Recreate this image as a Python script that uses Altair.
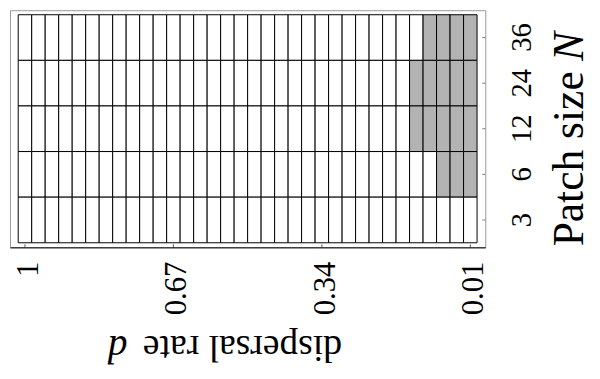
import altair as alt
import pandas as pd

# dispersal rates (columns, left to right) and patch sizes (rows, top to bottom)
d_values = ["1", "0.97", "0.94", "0.91", "0.88", "0.85", "0.82", "0.79", "0.76",
            "0.73", "0.7", "0.67", "0.64", "0.61", "0.58", "0.55", "0.52", "0.49",
            "0.46", "0.43", "0.4", "0.37", "0.34", "0.31", "0.28", "0.25", "0.22",
            "0.19", "0.16", "0.13", "0.1", "0.07", "0.04", "0.01"]
patch_sizes = ["36", "24", "12", "6", "3"]
# largest dispersal rate whose cell is shaded, per patch size (0 = none shaded)
shaded_up_to = [0.10, 0.13, 0.13, 0.07, 0.0]
x_tick_labels = ["1", "0.67", "0.34", "0.01"]

rows = []
for n, thr in zip(patch_sizes, shaded_up_to):
    for d in d_values:
        rows.append({"d": d, "N": n, "shaded": "yes" if float(d) <= thr + 1e-9 else "no"})
cells = pd.DataFrame(rows)

W, H = 481, 240
FONT = "Liberation Serif"

xscale = alt.Scale(domain=d_values, paddingInner=0, paddingOuter=0.61)
yscale = alt.Scale(domain=patch_sizes, paddingInner=0, paddingOuter=0.1)

xaxis = alt.Axis(values=x_tick_labels, labelAngle=270, labelAlign="right",
                 labelBaseline="middle", labelFont=FONT, labelFontSize=31,
                 labelColor="black", labelPadding=14, labelOffset=4,
                 ticks=False, tickSize=0, domain=True, domainColor="black",
                 domainWidth=1, title=None, labelOverlap=False, grid=False)
yaxis = alt.Axis(orient="right", labelAngle=270, labelAlign="center",
                 labelBaseline="alphabetic", labelFont=FONT, labelFontSize=29,
                 labelColor="black", labelPadding=46, ticks=False, tickSize=0,
                 domain=False, title=None, labelOverlap=False, grid=False)

heat = alt.Chart(cells).mark_rect(stroke="black", strokeWidth=1).encode(
    x=alt.X("d:O", scale=xscale, sort=None, axis=xaxis),
    y=alt.Y("N:O", scale=yscale, sort=None, axis=yaxis),
    fill=alt.Fill("shaded:N", scale=alt.Scale(domain=["no", "yes"],
                                              range=["white", "#b3b3b3"]), legend=None),
)

xt = alt.Chart(pd.DataFrame({"d": x_tick_labels})).mark_rule(color="#555", strokeWidth=1).encode(
    x=alt.X("d:O", scale=xscale, sort=None, axis=xaxis),
    y=alt.value(H), y2=alt.value(H - 3),
)
yt = alt.Chart(pd.DataFrame({"N": patch_sizes})).mark_rule(color="#777", strokeWidth=1).encode(
    y=alt.Y("N:O", scale=yscale, sort=None, axis=yaxis),
    x=alt.value(W), x2=alt.value(W - 3),
)

def label(txt, x, y, angle, italic=False, size=40, align="center"):
    return alt.Chart(pd.DataFrame({"t": [txt]})).mark_text(
        font=FONT, fontSize=size, angle=angle, align=align, baseline="alphabetic",
        fontStyle="italic" if italic else "normal", color="black"
    ).encode(text="t:N", x=alt.value(x), y=alt.value(y))

xtitle1 = label("dispersal rate", 336, 330, 180, size=38, align="left")
xtitle2 = label("d", 109, 330, 180, italic=True, size=40)
ytitle1 = label("Patch size", 580, 239, 270, size=44, align="left")
ytitle2 = label("N", 580, 22, 270, italic=True, size=44, align="right")

chart = alt.layer(heat, xt, yt, xtitle1, xtitle2, ytitle1, ytitle2).properties(
    width=W, height=H, padding={"left": 2, "top": 0, "right": 108, "bottom": 128},
    autosize=alt.AutoSizeParams(type="none"),
    background="white",
).configure_view(stroke="#999999", strokeWidth=1)

chart.save("out.html", embed_options={"renderer": "svg", "actions": False})
